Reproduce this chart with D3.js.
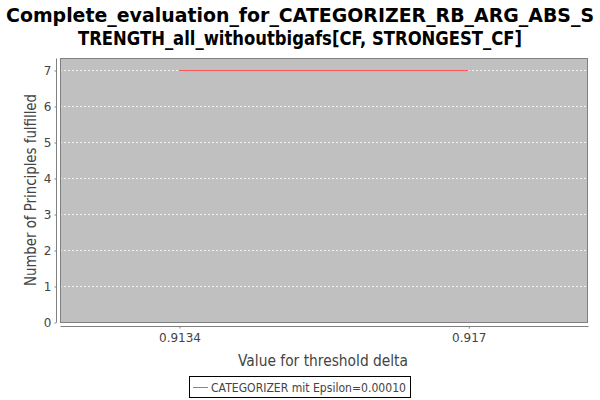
<!DOCTYPE html>
<html><head><meta charset="utf-8">
<script src="https://cdn.jsdelivr.net/npm/d3@7"></script>
<style>body{margin:0;background:#fff}svg{display:block}</style>
</head><body>
<svg id="c" width="600" height="400"></svg>
<script>
const titleLines = ["Complete_evaluation_for_CATEGORIZER_RB_ARG_ABS_S", "TRENGTH_all_withoutbigafs[CF, STRONGEST_CF]"];
const xValues = [0.9134, 0.917];
const yValues = [7, 7];
const xTicks = [0.9134, 0.917];
const xTickLabels = ["0.9134", "0.917"];
const yTicks = [0, 1, 2, 3, 4, 5, 6, 7];
const seriesName = "CATEGORIZER mit Epsilon=0.00010";
const xLabel = "Value for threshold delta";
const yLabel = "Number of Principles fulfilled";

const svg = d3.select("#c");
const L = 60, R = 588, T = 58, B = 322;
const x = d3.scaleLinear().domain([0.911919, 0.91849]).range([L, R]);
const y = d3.scaleLinear().domain([0, 7.333]).range([B, T]);
const font = "'DejaVu Sans', sans-serif";

// title
svg.selectAll("text.title").data(titleLines).enter().append("text")
  .attr("x", 300).attr("y", (d, i) => 22 + i * 23)
  .attr("text-anchor", "middle").attr("font-family", font).attr("font-weight", "bold")
  .attr("font-size", 19).attr("fill", "#000")
  .attr("textLength", (d, i) => i === 0 ? 588 : 444).attr("lengthAdjust", "spacingAndGlyphs")
  .text(d => d);

// plot background
svg.append("rect").attr("x", L).attr("y", T).attr("width", R - L).attr("height", B - T).attr("fill", "#c0c0c0");

// gridlines
svg.selectAll("line.grid").data(yTicks).enter().append("line")
  .attr("x1", L).attr("x2", R).attr("y1", d => y(d) + 0.5).attr("y2", d => y(d) + 0.5)
  .attr("stroke", "#ffffff").attr("stroke-width", 0.8).attr("stroke-dasharray", "2,2");

// border
svg.append("rect").attr("x", L + 0.5).attr("y", T + 0.5).attr("width", R - L - 1).attr("height", B - T)
  .attr("fill", "none").attr("stroke", "#808080").attr("stroke-width", 1);

// line
const line = d3.line().x(d => x(d[0])).y(d => y(d[1]) + 0.5);
svg.append("path").datum(xValues.map((v, i) => [v, yValues[i]]))
  .attr("d", line).attr("fill", "none").attr("stroke", "#ff5555").attr("stroke-width", 1);

// y axis
const yAxis = svg.append("g").attr("transform", `translate(${L - 3.5},0.5)`)
  .call(d3.axisLeft(y).tickValues(yTicks).tickFormat(d3.format("d")).tickSize(2).tickPadding(3));
yAxis.select(".domain").attr("stroke", "#808080").attr("d", `M-0,${T}V${B}`);
yAxis.selectAll(".tick line").attr("stroke", "#808080");
yAxis.selectAll("text").attr("font-family", font).attr("font-size", 12).attr("fill", "#444");

// x axis
const xAxis = svg.append("g").attr("transform", `translate(0.5,${B + 4.5})`)
  .call(d3.axisBottom(x).tickValues(xTicks).tickFormat((d, i) => xTickLabels[i]).tickSize(2).tickPadding(5));
xAxis.select(".domain").attr("stroke", "#808080").attr("d", `M${L},0H${R}`);
xAxis.selectAll(".tick line").attr("stroke", "#808080");
xAxis.selectAll("text").attr("font-family", font).attr("font-size", 12).attr("fill", "#444");

// axis labels
svg.append("text").attr("x", 323).attr("y", 366).attr("text-anchor", "middle")
  .attr("font-family", font).attr("font-size", 15).attr("fill", "#444")
  .attr("textLength", 170).attr("lengthAdjust", "spacingAndGlyphs").text(xLabel);
svg.append("text").attr("transform", `translate(36,${(T + B) / 2}) rotate(-90)`).attr("text-anchor", "middle")
  .attr("font-family", font).attr("font-size", 15).attr("fill", "#444")
  .attr("textLength", 192).attr("lengthAdjust", "spacingAndGlyphs").text(yLabel);

// legend
const lg = svg.append("g");
lg.append("rect").attr("x", 189.5).attr("y", 376.5).attr("width", 221).attr("height", 21)
  .attr("fill", "#fff").attr("stroke", "#000");
lg.append("line").attr("x1", 193).attr("x2", 208).attr("y1", 387.5).attr("y2", 387.5).attr("stroke", "#ff5555");
lg.append("text").attr("x", 211).attr("y", 392).attr("font-family", font).attr("font-size", 12)
  .attr("fill", "#444").attr("textLength", 195).attr("lengthAdjust", "spacingAndGlyphs").text(seriesName);
</script>
</body></html>
